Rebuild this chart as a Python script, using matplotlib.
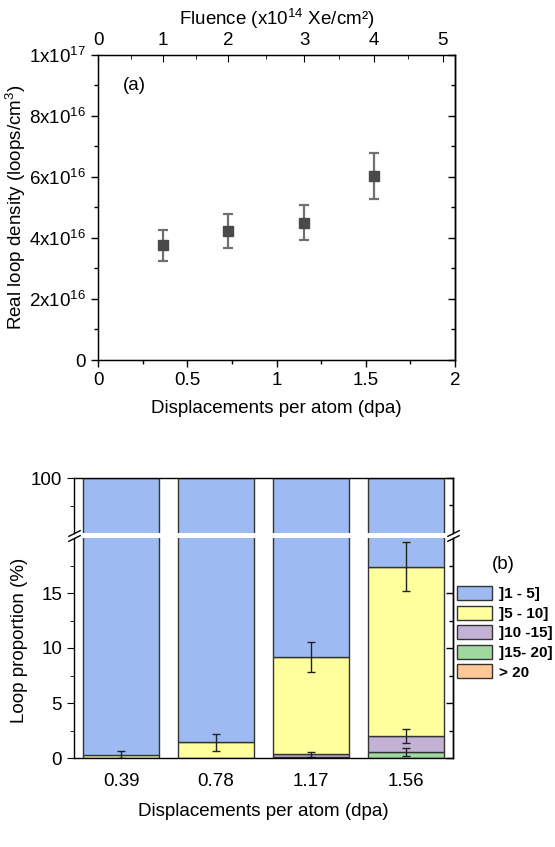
import numpy as np
import matplotlib
matplotlib.use("Agg")
import matplotlib.pyplot as plt
from matplotlib.ticker import AutoMinorLocator, FixedLocator, NullFormatter

plt.rcParams['font.family'] = ['Liberation Sans', 'DejaVu Sans']
plt.rcParams['mathtext.fontset'] = 'custom'
plt.rcParams['mathtext.rm'] = 'Liberation Sans'
plt.rcParams['mathtext.it'] = 'Liberation Sans:italic'
plt.rcParams['mathtext.bf'] = 'Liberation Sans:bold'

# ---- panel (a) data ----
dpa_pts = [0.365, 0.73, 1.155, 1.546]          # fluence 1..4 x10^14
density = [3.76e16, 4.23e16, 4.50e16, 6.03e16]
density_err = [0.50e16, 0.56e16, 0.57e16, 0.76e16]
fluence_labels = ['0', '1', '2', '3', '4', '5']
fluence_dpa = [0, 0.365, 0.73, 1.155, 1.546, 1.93]
dens_ticks = [0, 2e16, 4e16, 6e16, 8e16, 1e17]
dens_labels = ['0', '2x10$^{16}$', '4x10$^{16}$', '6x10$^{16}$', '8x10$^{16}$', '1x10$^{17}$']

# ---- panel (b) data ----
dpa_cat = ['0.39', '0.78', '1.17', '1.56']
p_gt20 = [0, 0, 0, 0]
p_15_20 = [0, 0, 0.10, 0.55]
p_10_15 = [0, 0, 0.25, 1.41]
p_5_10 = [0.30, 1.41, 8.80, 15.44]
err_15_20 = [0, 0, 0, 0.40]
err_10_15 = [0, 0, 0.23, 0.64]
err_5_10 = [0.30, 0.76, 1.37, 2.25]
classes = ['> 20', ']15- 20]', ']10 -15]', ']5 - 10]', ']1 - 5]']
colors = ['#FFC896', '#A0D9A0', '#C3B2D6', '#FFFF9E', '#9DBBF2']

fs = 13.5
fig = plt.figure(figsize=(5.55, 8.47), dpi=100)


def right_ticks(a, major, minor):
    # mirrored ticks on the right spine, pointing inward
    r = a.secondary_yaxis('right')
    r.set_yticks(major)
    r.yaxis.set_major_formatter(NullFormatter())
    r.yaxis.set_minor_locator(FixedLocator(minor))
    r.tick_params(which='major', direction='in', length=5, width=1)
    r.tick_params(which='minor', direction='in', length=3, width=1)
    r.spines['right'].set_linewidth(1)
    return r


# ================= panel (a) =================
ax = fig.add_axes([98/555, 1-360/847, 357/555, 305/847])
ax.errorbar(dpa_pts, density, yerr=density_err, fmt='s', color='#4a4a4a',
            ecolor='#707070', elinewidth=1.6, capsize=3.5, capthick=1.6,
            markersize=7.5)
ax.set_xlim(0, 2)
ax.set_ylim(0, 1e17)
ax.set_xticks([0, 0.5, 1, 1.5, 2], ['0', '0.5', '1', '1.5', '2'])
ax.xaxis.set_minor_locator(AutoMinorLocator(2))
ax.set_yticks(dens_ticks, dens_labels)
ax.yaxis.set_minor_locator(AutoMinorLocator(2))
ax.tick_params(axis='both', which='major', direction='out', length=5, width=1,
               labelsize=fs)
ax.tick_params(axis='both', which='minor', direction='out', length=3, width=1)
ax.set_xlabel('Displacements per atom (dpa)', fontsize=fs, labelpad=8)
ax.set_ylabel('Real loop density (loops/cm$^3$)', fontsize=fs, labelpad=1)
ax.text(0.07, 0.9, '(a)', transform=ax.transAxes, fontsize=fs, va='center')
for s in ax.spines.values():
    s.set_linewidth(1)
right_ticks(ax, dens_ticks, [1e16, 3e16, 5e16, 7e16, 9e16])

axt = ax.twiny()
axt.set_xlim(0, 2)
axt.set_xticks(fluence_dpa, fluence_labels)
mids = [(fluence_dpa[i] + fluence_dpa[i+1]) / 2 for i in range(len(fluence_dpa)-1)]
axt.xaxis.set_minor_locator(FixedLocator(mids))
axt.tick_params(axis='x', which='major', direction='in', length=5, labelsize=fs, pad=4)
axt.tick_params(axis='x', which='minor', direction='in', length=3)
axt.set_xlabel('Fluence (x10$^{14}$ Xe/cm²)', fontsize=fs, labelpad=5)

# ================= panel (b) =================
left, width = 74/555, 379/555
ax_up = fig.add_axes([left, 1-533/847, width, 55/847])
ax_lo = fig.add_axes([left, 1-758/847, width, 220/847])

x = np.arange(len(dpa_cat))
parts = [p_gt20, p_15_20, p_10_15, p_5_10]
rest = [100 - sum(v) for v in zip(*parts)]
parts = parts + [rest]

for a in (ax_up, ax_lo):
    bottom = np.zeros(len(x))
    for vals, col, lab in zip(parts, colors, classes):
        a.bar(x, vals, 0.8, bottom=bottom, color=col, edgecolor='#333333',
              linewidth=1, label=lab)
        bottom = bottom + np.array(vals)
    a.set_xlim(-0.5, 3.5)
    for s in a.spines.values():
        s.set_linewidth(1)

# error bars at the top of each segment
cum = np.zeros(len(x))
for vals, errs in zip([p_gt20, p_15_20, p_10_15, p_5_10],
                      [[0]*4, err_15_20, err_10_15, err_5_10]):
    cum = cum + np.array(vals)
    for i in range(len(x)):
        if errs[i] > 0:
            ax_lo.errorbar(x[i], cum[i], yerr=errs[i], fmt='none', ecolor='#222222',
                           elinewidth=1, capsize=3, capthick=1)

ax_up.set_ylim(95, 100)
ax_lo.set_ylim(0, 20)
ax_up.set_yticks([100])
ax_up.yaxis.set_minor_locator(FixedLocator([97.5]))
ax_lo.set_yticks([0, 5, 10, 15])
ax_lo.yaxis.set_minor_locator(FixedLocator([2.5, 7.5, 12.5, 17.5]))
ax_up.spines['bottom'].set_visible(False)
ax_lo.spines['top'].set_visible(False)
ax_up.tick_params(axis='x', which='both', bottom=False, labelbottom=False)
ax_lo.set_xticks(x, dpa_cat)
ax_lo.tick_params(axis='x', length=0, labelsize=fs, pad=11)
for a in (ax_up, ax_lo):
    a.tick_params(axis='y', which='major', direction='out', length=5, labelsize=fs)
    a.tick_params(axis='y', which='minor', direction='out', length=3)
r_up = right_ticks(ax_up, [100], [97.5])
r_lo = right_ticks(ax_lo, [0, 5, 10, 15], [2.5, 7.5, 12.5, 17.5])
r_up.spines['bottom'].set_visible(False)
r_lo.spines['top'].set_visible(False)
ax_lo.set_xlabel('Displacements per atom (dpa)', fontsize=fs, labelpad=9)
fig.text(0.035, 1-640/847, 'Loop proportion (%)', rotation=90, fontsize=fs,
         ha='center', va='center')

# break marks
kw = dict(marker=[(-1, -0.5), (1, 0.5)], markersize=9, linestyle='none',
          color='k', mec='k', mew=1, clip_on=False)
ax_up.plot([0, 1], [0, 0], transform=ax_up.transAxes, **kw)
ax_lo.plot([0, 1], [1, 1], transform=ax_lo.transAxes, **kw)

# legend
handles, labels = ax_lo.get_legend_handles_labels()
fig.legend(handles[::-1], labels[::-1], loc='upper left',
           bbox_to_anchor=(457/555, 1-586/847), frameon=False,
           prop={'weight': 'bold', 'size': 11}, handlelength=2.3,
           handleheight=1.05, labelspacing=0.28, handletextpad=0.45,
           borderpad=0, borderaxespad=0)
fig.text(503/555, 1-564/847, '(b)', fontsize=fs, ha='center', va='center')

fig.savefig('out.png', dpi=100)
